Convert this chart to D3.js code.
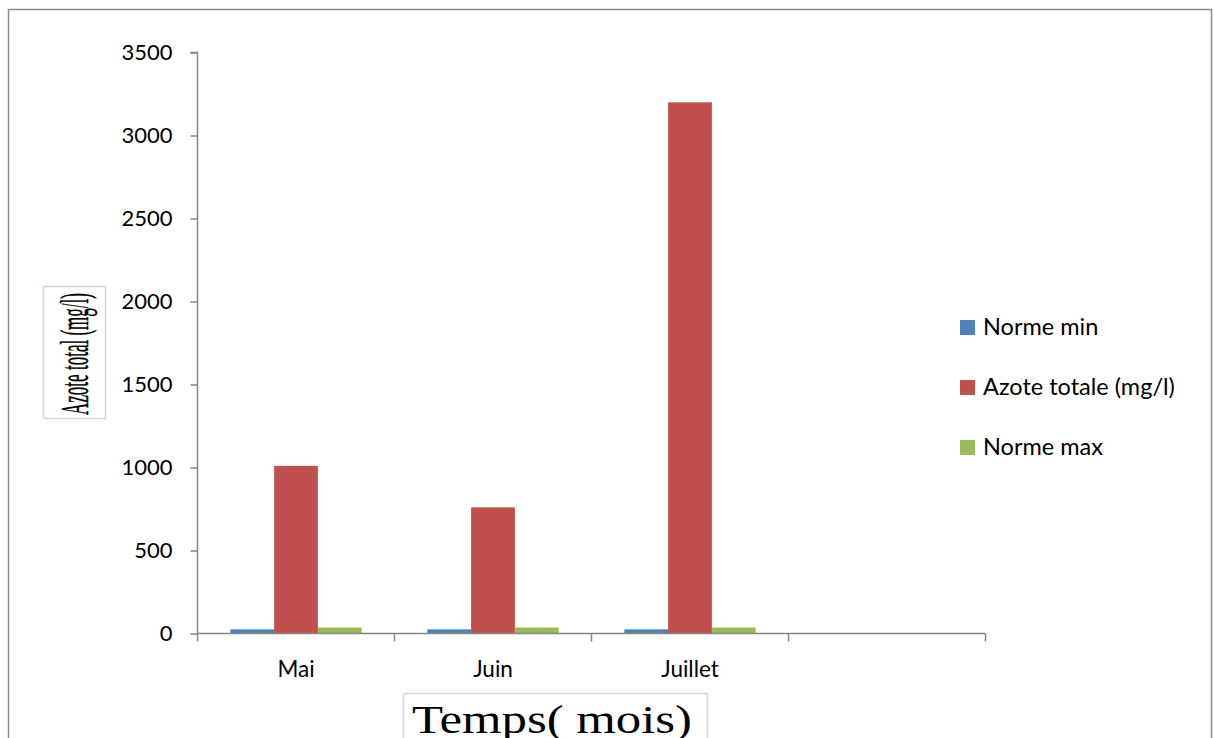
<!DOCTYPE html>
<html>
<head>
<meta charset="utf-8">
<script src="https://cdn.jsdelivr.net/npm/d3@7"></script>
<style>
  html, body { margin: 0; padding: 0; background: #fff; }
  svg { display: block; }
</style>
</head>
<body>
<svg id="chart" width="1214" height="738"></svg>
<script>
// Monthly total nitrogen with the min / max standard values
const categories = ["Mai", "Juin", "Juillet", ""];
const seriesNames = ["Norme min", "Azote totale (mg/l)", "Norme max"];
const normeMin = [25, 25, 25, null];
const azoteTotale = [1010, 760, 3200, null];
const normeMax = [36, 36, 36, null];
const yTicks = [0, 500, 1000, 1500, 2000, 2500, 3000, 3500];
const colors = ["#4f81bd", "#c0504d", "#9bbb59"];

const series = [normeMin, azoteTotale, normeMax];

const svg = d3.select("#chart");
const labelFont = "Lato, 'Open Sans', sans-serif";

// Outer frame
svg.append("rect")
  .attr("x", 8.5).attr("y", 9.5)
  .attr("width", 1203).attr("height", 740)
  .attr("fill", "#fff")
  .attr("stroke", "#8c8c8c").attr("stroke-width", 1.5);

const plot = { left: 197.5, right: 985.5, top: 52.5, bottom: 633.5 };

const x = d3.scaleBand()
  .domain(d3.range(categories.length))
  .range([plot.left, plot.right])
  .paddingInner(0).paddingOuter(0);

const inner = d3.scaleBand()
  .domain(d3.range(seriesNames.length))
  .range([0, x.bandwidth()])
  .paddingOuter(0.75).paddingInner(0);

const y = d3.scaleLinear().domain([0, 3500]).range([plot.bottom, plot.top]);

// Bars
series.forEach((vals, si) => {
  svg.append("g")
    .selectAll("rect")
    .data(vals.map((v, i) => ({ v, i })).filter(d => d.v != null))
    .join("rect")
    .attr("x", d => x(d.i) + inner(si))
    .attr("width", inner.bandwidth())
    .attr("y", d => y(d.v))
    .attr("height", d => y(0) - y(d.v))
    .attr("fill", colors[si]);
});

// Y axis
const yAxis = d3.axisLeft(y).tickValues(yTicks).tickSize(7).tickPadding(18)
  .tickFormat(d3.format("d"));
const gy = svg.append("g").attr("transform", `translate(${plot.left},0)`).call(yAxis);
gy.select(".domain").attr("stroke", "#868686").attr("stroke-width", 1.5)
  .attr("d", `M-7,${plot.top}H0V${plot.bottom}`);
gy.selectAll(".tick line").attr("stroke", "#868686").attr("stroke-width", 1.5);
gy.selectAll(".tick text")
  .attr("font-family", labelFont)
  .attr("font-size", 22).attr("fill", "#000");

// X axis
const xLin = d3.scaleLinear().domain([0, categories.length]).range([plot.left, plot.right]);
const gx = svg.append("g").attr("transform", `translate(0,${plot.bottom})`);
gx.append("path")
  .attr("d", `M${plot.left},0H${plot.right}`)
  .attr("stroke", "#868686").attr("stroke-width", 1.5).attr("fill", "none");
gx.selectAll("line.tk")
  .data(d3.range(categories.length + 1))
  .join("line")
  .attr("class", "tk")
  .attr("x1", d => xLin(d)).attr("x2", d => xLin(d))
  .attr("y1", 0).attr("y2", 8)
  .attr("stroke", "#868686").attr("stroke-width", 1.5);
gx.selectAll("text.cat")
  .data(categories)
  .join("text")
  .attr("class", "cat")
  .attr("x", (d, i) => x(i) + x.bandwidth() / 2)
  .attr("y", 43.5)
  .attr("text-anchor", "middle")
  .attr("font-family", labelFont)
  .attr("font-size", 22.5).attr("fill", "#000")
  .text(d => d);

// Y axis title in a framed box (tall, condensed serif)
svg.append("rect")
  .attr("x", 43.5).attr("y", 286.5).attr("width", 62).attr("height", 132)
  .attr("fill", "#fff").attr("stroke", "#cdd5e3").attr("stroke-width", 1.5);
svg.append("text")
  .attr("transform", "translate(88,354) rotate(-90)")
  .attr("text-anchor", "middle")
  .attr("font-family", "'Liberation Serif', serif")
  .attr("font-size", 40).attr("fill", "#000")
  .attr("stroke", "#000").attr("stroke-width", 0.4)
  .attr("textLength", 122).attr("lengthAdjust", "spacingAndGlyphs")
  .text("Azote total (mg/l)");

// X axis title in a framed box
svg.append("rect")
  .attr("x", 403.5).attr("y", 693.5).attr("width", 304).attr("height", 60)
  .attr("fill", "#fff").attr("stroke", "#cdd5e3").attr("stroke-width", 1.5);
svg.append("text")
  .attr("x", 552).attr("y", 733)
  .attr("text-anchor", "middle")
  .attr("font-family", "'Liberation Serif', serif")
  .attr("font-size", 41).attr("fill", "#000")
  .attr("textLength", 280).attr("lengthAdjust", "spacingAndGlyphs")
  .text("Temps( mois)");

// Legend
const legend = svg.append("g").attr("transform", "translate(960,320)");
seriesNames.forEach((name, i) => {
  const g = legend.append("g").attr("transform", `translate(0,${i * 60})`);
  g.append("rect").attr("x", 0).attr("y", 0).attr("width", 15).attr("height", 15)
    .attr("fill", colors[i]);
  g.append("text").attr("x", 23).attr("y", 15)
    .attr("font-family", labelFont)
    .attr("font-size", 23.5).attr("fill", "#000")
    .text(name);
});
</script>
</body>
</html>
